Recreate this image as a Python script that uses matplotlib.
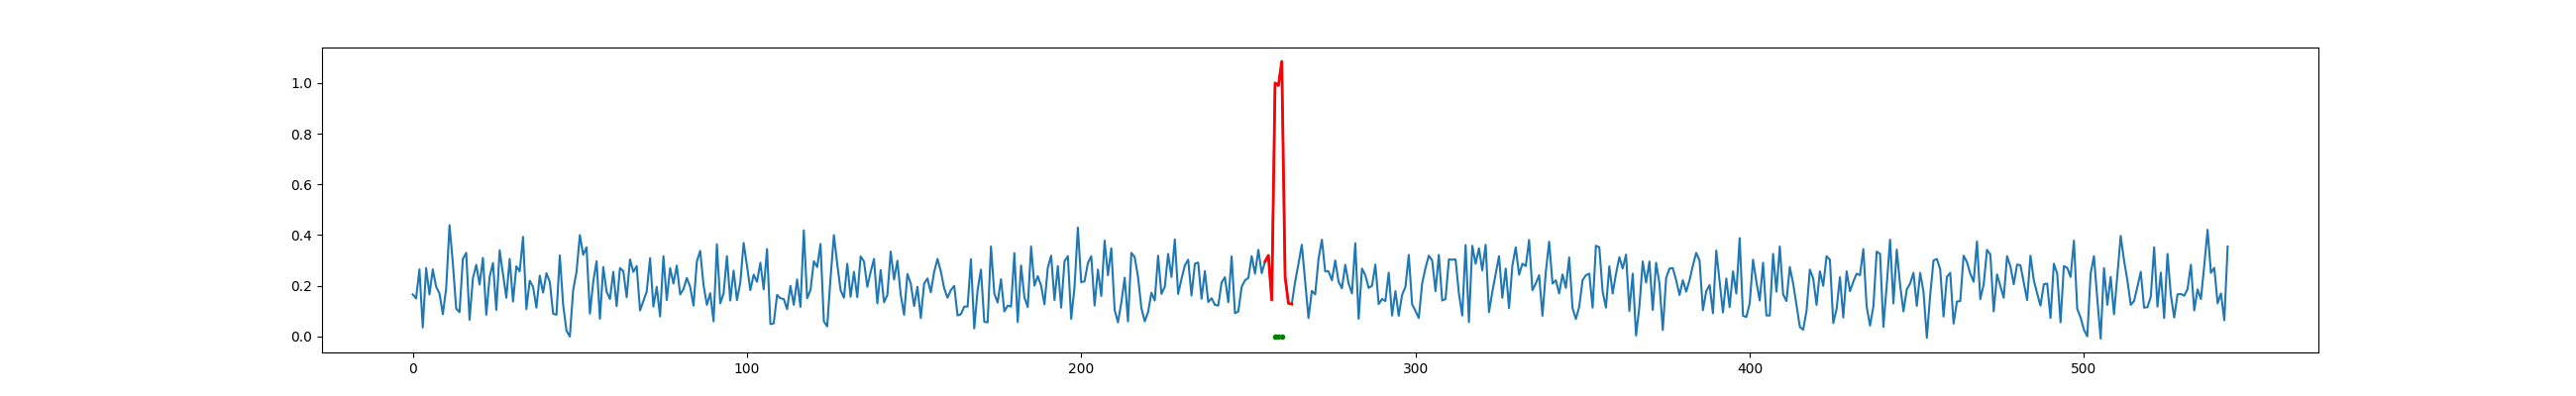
import matplotlib
matplotlib.use("Agg")
import matplotlib.pyplot as plt
import numpy as np

# signal, one value per sample (index 0..543)
signal = [
    0.166, 0.150, 0.265, 0.036, 0.270, 0.166, 0.265, 0.196, 0.170, 0.088,
    0.190, 0.439, 0.290, 0.110, 0.096, 0.306, 0.330, 0.066, 0.230, 0.283,
    0.205, 0.310, 0.086, 0.235, 0.290, 0.105, 0.340, 0.248, 0.153, 0.306,
    0.138, 0.277, 0.257, 0.393, 0.108, 0.220, 0.196, 0.114, 0.240, 0.173,
    0.250, 0.216, 0.090, 0.086, 0.320, 0.125, 0.023, 0.000, 0.183, 0.255,
    0.400, 0.322, 0.352, 0.090, 0.216, 0.297, 0.070, 0.274, 0.177, 0.148,
    0.255, 0.120, 0.270, 0.258, 0.155, 0.304, 0.255, 0.278, 0.103, 0.140,
    0.177, 0.309, 0.118, 0.196, 0.079, 0.317, 0.144, 0.270, 0.209, 0.280,
    0.166, 0.187, 0.231, 0.196, 0.122, 0.296, 0.338, 0.203, 0.125, 0.171,
    0.060, 0.364, 0.131, 0.170, 0.317, 0.142, 0.260, 0.144, 0.213, 0.369,
    0.280, 0.183, 0.244, 0.216, 0.291, 0.186, 0.345, 0.049, 0.052, 0.164,
    0.151, 0.148, 0.108, 0.200, 0.125, 0.225, 0.117, 0.419, 0.151, 0.183,
    0.297, 0.274, 0.365, 0.060, 0.040, 0.231, 0.400, 0.287, 0.183, 0.153,
    0.287, 0.157, 0.255, 0.155, 0.316, 0.296, 0.196, 0.255, 0.306, 0.131,
    0.262, 0.135, 0.164, 0.335, 0.225, 0.299, 0.164, 0.086, 0.247, 0.209,
    0.120, 0.196, 0.073, 0.209, 0.229, 0.174, 0.255, 0.306, 0.257, 0.190,
    0.153, 0.183, 0.200, 0.083, 0.088, 0.118, 0.118, 0.305, 0.032, 0.183,
    0.264, 0.058, 0.056, 0.355, 0.170, 0.134, 0.226, 0.099, 0.122, 0.118,
    0.329, 0.057, 0.280, 0.155, 0.116, 0.355, 0.201, 0.238, 0.201, 0.127,
    0.271, 0.319, 0.144, 0.278, 0.114, 0.297, 0.317, 0.070, 0.196, 0.430,
    0.214, 0.218, 0.290, 0.317, 0.122, 0.264, 0.160, 0.378, 0.242, 0.348,
    0.105, 0.056, 0.134, 0.232, 0.060, 0.330, 0.313, 0.235, 0.112, 0.060,
    0.096, 0.173, 0.142, 0.319, 0.168, 0.196, 0.326, 0.235, 0.383, 0.168,
    0.227, 0.280, 0.303, 0.162, 0.287, 0.292, 0.149, 0.258, 0.136, 0.151,
    0.125, 0.122, 0.213, 0.234, 0.135, 0.316, 0.092, 0.099, 0.196, 0.222,
    0.231, 0.317, 0.248, 0.342, 0.250, 0.296, 0.320, 0.144, 1.000, 0.990,
    1.085, 0.235, 0.131, 0.128, 0.216, 0.287, 0.362, 0.216, 0.073, 0.180,
    0.166, 0.306, 0.382, 0.257, 0.257, 0.222, 0.300, 0.216, 0.190, 0.283,
    0.209, 0.170, 0.368, 0.070, 0.268, 0.242, 0.192, 0.200, 0.284, 0.128,
    0.148, 0.140, 0.252, 0.083, 0.179, 0.082, 0.164, 0.196, 0.322, 0.127,
    0.101, 0.073, 0.209, 0.270, 0.319, 0.300, 0.179, 0.322, 0.142, 0.148,
    0.304, 0.303, 0.304, 0.170, 0.083, 0.361, 0.057, 0.358, 0.287, 0.348,
    0.261, 0.362, 0.096, 0.177, 0.248, 0.317, 0.153, 0.268, 0.112, 0.280,
    0.352, 0.244, 0.287, 0.278, 0.381, 0.183, 0.209, 0.242, 0.082, 0.255,
    0.374, 0.209, 0.222, 0.170, 0.245, 0.192, 0.312, 0.112, 0.069, 0.118,
    0.222, 0.242, 0.248, 0.114, 0.358, 0.352, 0.177, 0.114, 0.277, 0.170,
    0.248, 0.313, 0.268, 0.323, 0.101, 0.248, 0.004, 0.118, 0.296, 0.213,
    0.296, 0.105, 0.291, 0.209, 0.026, 0.231, 0.268, 0.270, 0.222, 0.164,
    0.222, 0.177, 0.222, 0.280, 0.330, 0.300, 0.104, 0.179, 0.203, 0.092,
    0.339, 0.216, 0.095, 0.229, 0.116, 0.257, 0.170, 0.388, 0.082, 0.077,
    0.131, 0.303, 0.216, 0.142, 0.291, 0.083, 0.083, 0.326, 0.177, 0.355,
    0.166, 0.140, 0.274, 0.209, 0.125, 0.038, 0.027, 0.101, 0.264, 0.229,
    0.125, 0.257, 0.200, 0.317, 0.303, 0.053, 0.109, 0.234, 0.075, 0.257,
    0.179, 0.216, 0.248, 0.242, 0.345, 0.118, 0.043, 0.118, 0.335, 0.326,
    0.038, 0.203, 0.382, 0.131, 0.343, 0.203, 0.099, 0.186, 0.209, 0.251,
    0.121, 0.251, 0.177, -0.005, 0.164, 0.300, 0.306, 0.265, 0.079, 0.235,
    0.251, 0.051, 0.138, 0.140, 0.319, 0.294, 0.248, 0.216, 0.375, 0.148,
    0.205, 0.342, 0.323, 0.099, 0.245, 0.199, 0.153, 0.317, 0.277, 0.206,
    0.284, 0.281, 0.212, 0.144, 0.319, 0.222, 0.170, 0.122, 0.206, 0.209,
    0.073, 0.287, 0.248, 0.056, 0.278, 0.271, 0.235, 0.378, 0.109, 0.075,
    0.027, 0.001, 0.248, 0.317, 0.148, -0.008, 0.270, 0.125, 0.235, 0.088,
    0.242, 0.397, 0.300, 0.222, 0.125, 0.140, 0.196, 0.255, 0.114, 0.116,
    0.157, 0.352, 0.118, 0.252, 0.073, 0.326, 0.164, 0.075, 0.166, 0.168,
    0.161, 0.187, 0.283, 0.103, 0.186, 0.148, 0.280, 0.421, 0.251, 0.271,
    0.131, 0.170, 0.064, 0.355,
]

# highlighted window around the anomaly (inclusive sample indices)
window_start = 255
window_stop = 263

# samples flagged as anomalous, marked on the zero line
anomaly_x = [258, 259, 260]
anomaly_y = [0.0, 0.0, 0.0]

x = np.arange(len(signal))
y = np.array(signal)

fig, ax = plt.subplots(figsize=(26, 4), dpi=100)
ax.plot(x, y)
sl = slice(window_start, window_stop + 1)
ax.plot(x[sl], y[sl], color='red', linewidth=2)
ax.plot(anomaly_x, anomaly_y, 'g.')

fig.savefig("out.png", dpi=100)
